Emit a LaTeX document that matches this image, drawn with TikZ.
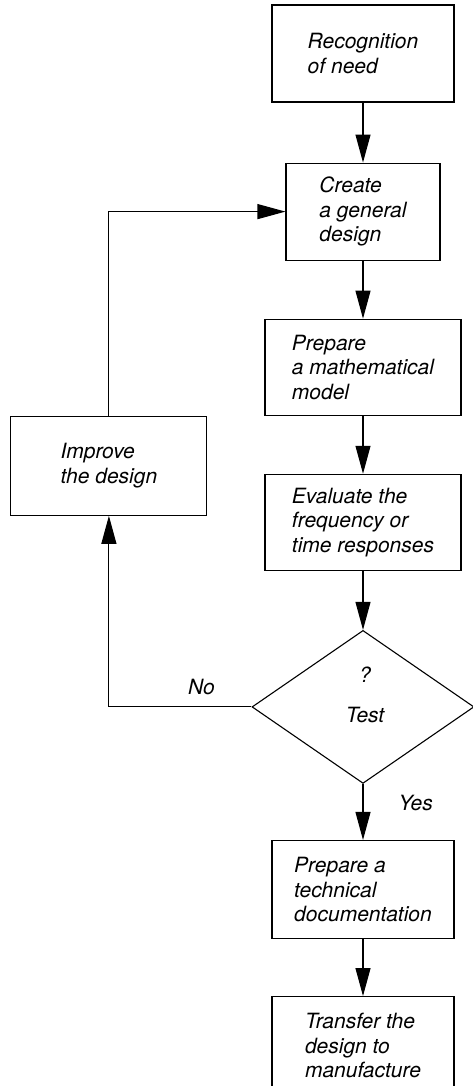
\documentclass[tikz,border=0pt]{standalone}
\usepackage{fontspec}
\setmainfont{TeX Gyre Heros}
\usetikzlibrary{shapes.geometric,arrows.meta,positioning}

\begin{document}
\begin{tikzpicture}[
    x=1pt, y=1pt,
    line width=1.1pt,
    step_node/.style={rectangle, draw=black, align=left, inner sep=0pt, font=\fontsize{21}{24.5}\selectfont\itshape},
    test_node/.style={diamond, draw=black, align=center, inner sep=0pt, minimum width=222pt, minimum height=153pt, font=\fontsize{21}{24.5}\selectfont\itshape},
    arrow/.style={-{Triangle[length=28pt, width=15pt]}},
    edge_label/.style={font=\fontsize{21}{24.5}\selectfont\itshape, inner sep=0pt}
]
\useasboundingbox (0,0) rectangle (473,-1086);

% Main column
\node[step_node, minimum width=182pt, minimum height=97pt] (recog) at (363,-53.5) {Recognition\\of need};
\node[step_node, minimum width=154pt, minimum height=97pt, below=60pt of recog] (create) {Create\\a general\\design};
\node[step_node, minimum width=196pt, minimum height=96pt, below=58pt of create] (model) {Prepare\\a mathematical\\model};
\node[step_node, minimum width=196pt, minimum height=96pt, below=58pt of model] (evaluate) {Evaluate the\\frequency or\\time responses};

% Decision
\node[test_node, below=59pt of evaluate] (test) {\hspace*{4pt}?\\[16pt]\hspace*{4pt}Test\rule[-24pt]{0pt}{24pt}};

% After the test
\node[step_node, minimum width=182pt, minimum height=98pt, below=56pt of test] (document) {Prepare a\\technical\\documentation};
\node[step_node, minimum width=182pt, minimum height=98pt, below=57pt of document] (transfer) {Transfer the\\design to\\manufacture};

% Feedback box on the left
\node[step_node, minimum width=196pt, minimum height=99pt, below left=0pt and 57pt of model.south west] (improve) {Improve\\the design};

% Connections
\draw[arrow] (recog) -- (create);
\draw[arrow] (create) -- (model);
\draw[arrow] (model) -- (evaluate);
\draw[arrow] (evaluate) -- (test);
\draw[arrow] (test) -- node[edge_label, right=35pt, pos=0.34] {Yes} (document);
\draw[arrow] (document) -- (transfer);
\draw[arrow] (test.west) -| node[edge_label, above=11.5pt, pos=0.175] {No} (improve.south);
\draw[arrow] (improve.north) |- (create.west);

\end{tikzpicture}
\end{document}
